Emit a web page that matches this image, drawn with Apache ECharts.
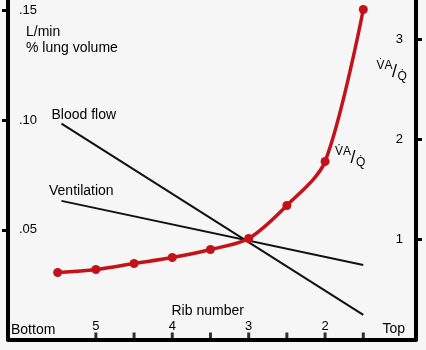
<!DOCTYPE html>
<html>
<head>
<meta charset="utf-8">
<script src="https://cdn.jsdelivr.net/npm/echarts@6/dist/echarts.min.js"></script>
<style>
html,body{margin:0;padding:0;background:#f6f6f6;}
#c{width:426px;height:350px;}
</style>
</head>
<body>
<div id="c"></div>
<script>
// ---- data ----
var ribTicks = [1.5, 2, 2.5, 3, 3.5, 4, 4.5, 5];
var ribLabels = [2, 3, 4, 5];
var leftTicks = [0.05, 0.10, 0.15];
var rightTicks = [1, 2, 3];

var bloodFlowRib = [5.45, 1.5];
var bloodFlowVal = [0.0984, 0.0112];
var ventilationRib = [5.45, 1.5];
var ventilationVal = [0.0632, 0.034];

var vaqRib = [5.5, 5, 4.5, 4, 3.5, 3, 2.5, 2, 1.5];
var vaqVal = [0.67, 0.70, 0.76, 0.82, 0.90, 1.01, 1.34, 1.78, 3.30];

function pairs(xs, ys){ return xs.map(function(x,i){ return [x, ys[i]]; }); }

var FONT = 'Liberation Sans, Arial, Helvetica, sans-serif';
var RED = '#c4121b';

function txt(x, y, s, size, align){
  return {type:'text', x:x, y:y, style:{text:s, fill:'#000', font: size+'px '+FONT,
    textAlign: align||'left', textVerticalAlign:'middle', align: align||'left', verticalAlign:'middle'}, silent:true};
}

var chart = echarts.init(document.getElementById('c'), null, {renderer:'canvas'});
chart.setOption({
  animation:false,
  backgroundColor:'#f6f6f6',
  grid:{left:8, right:10, top:0, bottom:10.5, containLabel:false},
  xAxis:{
    type:'value', min:0.81, max:6.15, inverse:true,
    axisLine:{show:true, lineStyle:{color:'#000', width:4}},
    axisTick:{show:false},
    axisLabel:{show:true, inside:true, margin:7, customValues:ribLabels, fontSize:13, color:'#000', fontFamily:FONT},
    splitLine:{show:false}
  },
  yAxis:[{
    type:'value', min:0, max:0.1548, position:'left',
    axisLine:{show:true, lineStyle:{color:'#000', width:4}},
    axisTick:{show:true, inside:false, length:6, customValues:leftTicks, lineStyle:{color:'#000', width:3}},
    axisLabel:{show:true, inside:true, margin:11, customValues:leftTicks, fontSize:13, color:'#000', fontFamily:FONT,
      formatter:function(v){ return v.toFixed(2).replace(/^0/, ''); }},
    splitLine:{show:false}
  },{
    type:'value', min:0, max:3.395, position:'right',
    axisLine:{show:true, lineStyle:{color:'#000', width:4}},
    axisTick:{show:true, inside:false, length:6, customValues:rightTicks, lineStyle:{color:'#000', width:3}},
    axisLabel:{show:true, inside:true, margin:13, customValues:rightTicks, fontSize:13, color:'#000', fontFamily:FONT},
    splitLine:{show:false}
  }],
  series:[{
    name:'ribTicks', type:'scatter', yAxisIndex:0, data:ribTicks.map(function(r){ return [r, 0]; }),
    symbol:'rect', symbolSize:[3, 7], symbolOffset:[0, -3.5], clip:false, silent:true,
    itemStyle:{color:'#000'}, z:4
  },{
    name:'Blood flow', type:'line', yAxisIndex:0, data:pairs(bloodFlowRib, bloodFlowVal),
    symbol:'none', lineStyle:{color:'#111', width:2}, z:2
  },{
    name:'Ventilation', type:'line', yAxisIndex:0, data:pairs(ventilationRib, ventilationVal),
    symbol:'none', lineStyle:{color:'#111', width:2}, z:2
  },{
    name:'VA/Q', type:'line', yAxisIndex:1, data:pairs(vaqRib, vaqVal),
    smooth:0.3, symbol:'circle', symbolSize:9,
    itemStyle:{color:RED}, lineStyle:{color:RED, width:3.5}, z:3
  }],
  graphic:[
    txt(26, 32, 'L/min', 14),
    txt(26, 48.5, '% lung volume', 14),
    txt(51.5, 115, 'Blood flow', 14),
    txt(49, 191.5, 'Ventilation', 14),
    txt(171.5, 311.5, 'Rib number', 14),
    txt(11, 330, 'Bottom', 14),
    txt(382.5, 329, 'Top', 14),
    // VA/Q near right axis
    txt(376.5, 66, 'V\u0307A', 12),
    txt(392, 72, '/', 18),
    txt(397.5, 77, 'Q\u0307', 12),
    // VA/Q near curve
    txt(335, 151.5, 'V\u0307A', 12),
    txt(350.5, 158, '/', 18),
    txt(356, 163, 'Q\u0307', 12)
  ]
});
</script>
</body>
</html>
